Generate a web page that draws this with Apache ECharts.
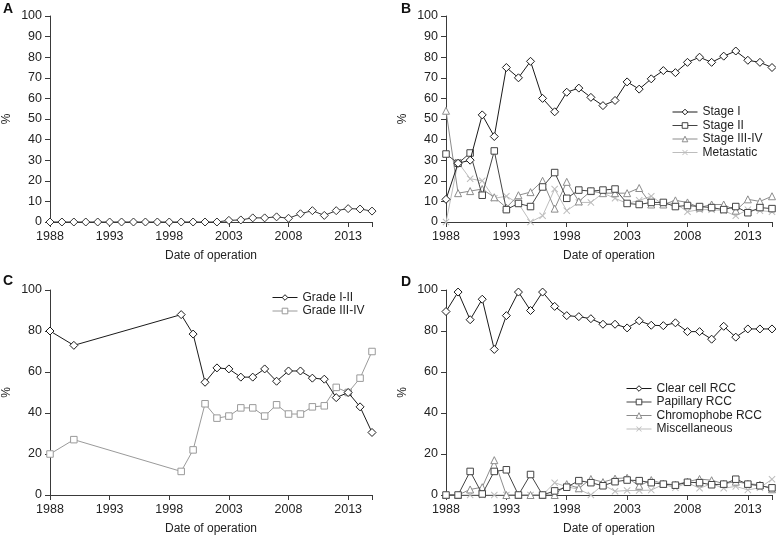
<!DOCTYPE html>
<html>
<head>
<meta charset="utf-8">
<script src="https://cdn.jsdelivr.net/npm/echarts@6/dist/echarts.min.js"></script>
<style>
  html, body { margin: 0; background: #fff; }
  #chart { width: 776px; height: 536px; }
</style>
</head>
<body>
<div id="chart"></div>
<script>
// years on the x axis (all panels)
const years = [1988, 1989, 1990, 1991, 1992, 1993, 1994, 1995, 1996, 1997, 1998, 1999, 2000, 2001,
  2002, 2003, 2004, 2005, 2006, 2007, 2008, 2009, 2010, 2011, 2012, 2013, 2014, 2015];
const yearLabels = [1988, 1993, 1998, 2003, 2008, 2013];

// A
const seriesA = [0, 0, 0, 0, 0, 0, 0, 0, 0, 0, 0, 0, 0, 0, 0, 0.8, 1, 2, 2, 2.5, 1.8, 4, 5.5, 3.2, 5.5, 6.5, 6.3, 5.3];

// B - stage
const stage1 = [11, 28.5, 30, 52, 41.5, 75, 70, 78, 60, 53.5, 63, 65, 60.5, 56.5, 59, 68, 64.5, 69.5, 73.5, 72.5, 77.5, 80, 77.5, 80.5, 83, 78.5, 77.5, 75];
const stage2 = [33, 28.5, 33.5, 13, 34.5, 6, 9, 7.5, 17, 24, 11.5, 15.5, 15, 15.5, 16, 9, 8.5, 9.5, 9.5, 7.5, 8, 7.5, 7, 6, 7.5, 4.5, 7, 6.5];
const stage34 = [54, 14, 15, 16, 12, 7, 13, 14.5, 20, 6.5, 19.5, 10, 15, 14, 14, 14, 16.5, 8.5, 8.5, 10.5, 9.5, 7, 8.5, 8.5, 5.5, 11, 10, 12.5];
const metastatic = [0, 29, 21, 20, 11.5, 12.5, 9, 0, 3, 16, 5.5, 9.5, 9.5, 14, 11.5, 9, 10.5, 12.5, 8.5, 9, 5, 6, 6, 5.5, 3, 6, 5.5, 5];

// C - grade (no data for 1989, 1991-1998)
const grade12 = [80, null, 73, null, null, null, null, null, null, null, null, 88, 78.5, 55, 62, 61.5, 57.5, 57.5, 61.5, 55.5, 60.5, 60.5, 57, 56.5, 47.5, 50, 43, 30.5];
const grade34 = [20, null, 27, null, null, null, null, null, null, null, null, 11.5, 22, 44.5, 37.5, 38.5, 42.5, 42.5, 38.5, 44, 39.5, 39.5, 43, 43.5, 52.5, 50, 57, 70];

// D - histology
const clearCell = [89.5, 99, 85.5, 95.5, 71, 87.5, 99, 90, 99, 92, 87.5, 87, 86, 83.3, 83.3, 81.5, 85, 82.8, 82.6, 84, 79.7, 79.7, 76, 82.3, 77, 81, 81, 81];
const papillary = [0, 0, 11.5, 0.5, 11.5, 12.3, 0, 10, 0, 2, 3.8, 7, 6, 4.5, 6.5, 7.3, 7, 6, 5.3, 4.8, 6.2, 6, 5, 5.3, 7.7, 5.3, 4.5, 3.5];
const chromophobe = [0, 0, 2.7, 3.8, 17, 0, 0, 0, 0, 0, 5.3, 3.3, 7.8, 6.3, 8, 8.4, 4.5, 7.3, 5.5, 5, 6.5, 7.8, 7.2, 5.5, 6.5, 5.5, 5, 2.8];
const misc = [0, 0, 0, 0, 0, 0, 0, 0, 0, 6, 4, 2.8, 0, 5, 1.8, 2.2, 2.2, 2.4, 5.2, 3.5, 6, 3.3, 5.5, 3.3, 4.2, 2.5, 3.5, 7.7];

const FONT = '"Liberation Sans", Arial, sans-serif';
const FS = 12;       // names, legend
const FS_TICK = 12.5; // tick labels
const AXIS_COLOR = '#3a3a3a';
const CROSS = 'path://M0,1L1,0L5,4L9,0L10,1L6,5L10,9L9,10L5,6L1,10L0,9L4,5Z';

const chart = echarts.init(document.getElementById('chart'), null, { renderer: 'canvas' });

function xAxis(gridIndex) {
  return {
    type: 'category',
    gridIndex,
    data: years,
    boundaryGap: false,
    name: 'Date of operation',
    nameLocation: 'middle',
    nameGap: 28,
    nameTextStyle: { fontFamily: FONT, fontSize: FS, color: '#222' },
    axisLine: { lineStyle: { color: AXIS_COLOR, width: 1 } },
    axisTick: {
      length: 5,
      lineStyle: { color: AXIS_COLOR },
      interval: (i) => i % 5 === 0 || i === years.length - 1
    },
    axisLabel: {
      margin: 8,
      fontFamily: FONT,
      fontSize: FS_TICK,
      color: '#222',
      interval: (i, v) => yearLabels.includes(Number(v))
    },
    splitLine: { show: false }
  };
}

function yAxis(gridIndex, interval) {
  return {
    type: 'value',
    gridIndex,
    min: 0,
    max: 100,
    interval,
    name: '%',
    nameLocation: 'middle',
    nameRotate: 90,
    nameGap: 37,
    nameTextStyle: { fontFamily: FONT, fontSize: FS, color: '#222' },
    axisLine: { show: true, lineStyle: { color: AXIS_COLOR, width: 1 } },
    axisTick: { show: true, length: 5, lineStyle: { color: AXIS_COLOR } },
    axisLabel: { margin: 8, fontFamily: FONT, fontSize: FS_TICK, color: '#222' },
    splitLine: { show: false }
  };
}

// hollow marker: white fill, coloured outline; the cross is a filled path
function line(name, idx, data, color, symbol, size, z) {
  const cross = symbol === CROSS;
  return {
    name,
    type: 'line',
    xAxisIndex: idx,
    yAxisIndex: idx,
    data,
    connectNulls: true,
    symbol,
    symbolSize: size,
    showAllSymbol: true,
    lineStyle: { color, width: 1 },
    itemStyle: cross
      ? { color, borderWidth: 0 }
      : { color: '#fff', borderColor: color, borderWidth: 1 },
    z: z || 2
  };
}

function legend(names, left, top) {
  return {
    data: names,
    orient: 'vertical',
    left,
    top,
    padding: 0,
    itemWidth: 25,
    itemHeight: 7,
    itemGap: 1.5,
    itemStyle: { borderWidth: 1 },
    lineStyle: { width: 1 },
    textStyle: { fontFamily: FONT, fontSize: FS, color: '#222' },
    selectedMode: false
  };
}

const letterStyle = { fontFamily: FONT, fontSize: 14, fontWeight: 'bold', color: '#111' };

chart.setOption({
  animation: false,
  backgroundColor: '#fff',
  title: [
    { text: 'A', left: 1, top: 0, padding: 2, textStyle: letterStyle },
    { text: 'B', left: 399, top: 0, padding: 2, textStyle: letterStyle },
    { text: 'C', left: 1, top: 272, padding: 2, textStyle: letterStyle },
    { text: 'D', left: 399, top: 273, padding: 2, textStyle: letterStyle }
  ],
  grid: [
    { left: 48, top: 16, width: 324, height: 206 },
    { left: 446, top: 16, width: 326, height: 206 },
    { left: 48, top: 290, width: 324, height: 205 },
    { left: 446, top: 290, width: 326, height: 205 }
  ],
  xAxis: [xAxis(0), xAxis(1), xAxis(2), xAxis(3)],
  yAxis: [yAxis(0, 10), yAxis(1, 10), yAxis(2, 20), yAxis(3, 20)],
  legend: [
    legend(['Stage I', 'Stage II', 'Stage III-IV', 'Metastatic'], 672, 106),
    legend(['Grade I-II', 'Grade III-IV'], 272, 291.5),
    legend(['Clear cell RCC', 'Papillary RCC', 'Chromophobe RCC', 'Miscellaneous'], 626, 382.5)
  ],
  series: [
    line('Panel A', 0, seriesA, '#333', 'diamond', 8),

    line('Metastatic', 1, metastatic, '#bdbdbd', CROSS, 7, 2),
    line('Stage III-IV', 1, stage34, '#8c8c8c', 'triangle', 7, 3),
    line('Stage II', 1, stage2, '#444', 'rect', 6.5, 4),
    line('Stage I', 1, stage1, '#1a1a1a', 'diamond', 8, 5),

    line('Grade III-IV', 2, grade34, '#9a9a9a', 'rect', 6.5, 3),
    line('Grade I-II', 2, grade12, '#1a1a1a', 'diamond', 8, 4),

    line('Miscellaneous', 3, misc, '#bdbdbd', CROSS, 7, 2),
    line('Chromophobe RCC', 3, chromophobe, '#8c8c8c', 'triangle', 7, 3),
    line('Papillary RCC', 3, papillary, '#444', 'rect', 6.5, 4),
    line('Clear cell RCC', 3, clearCell, '#1a1a1a', 'diamond', 8, 5)
  ]
});
</script>
</body>
</html>
